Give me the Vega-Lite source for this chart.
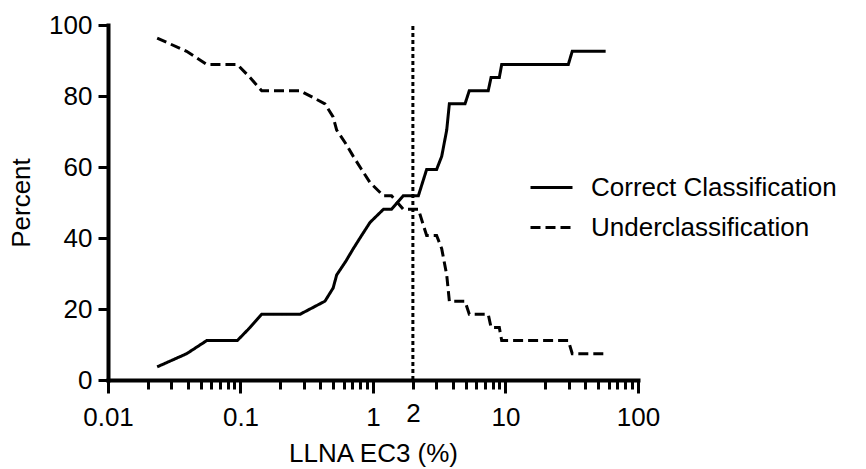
{
  "$schema": "https://vega.github.io/schema/vega-lite/v6.json",
  "width": 530,
  "height": 355,
  "autosize": {"type": "none"},
  "padding": {"left": 108, "top": 25, "right": 228, "bottom": 89},
  "background": "white",
  "config": {
    "view": {"stroke": null},
    "font": "Liberation Sans",
    "axis": {
      "grid": false,
      "domainColor": "black",
      "domainWidth": 4,
      "domainCap": "square",
      "tickColor": "black",
      "tickWidth": 3,
      "labelColor": "black",
      "titleColor": "black",
      "labelFont": "Liberation Sans",
      "titleFont": "Liberation Sans",
      "labelFontSize": 26,
      "titleFontSize": 26,
      "titleFontWeight": "normal",
      "labelOverlap": false,
      "labelFlush": false,
      "labelBound": false
    },
    "legend": {
      "labelFont": "Liberation Sans",
      "labelFontSize": 26,
      "labelColor": "black",
      "labelLimit": 400,
      "rowPadding": 4,
      "padding": 0
    }
  },
  "layer": [
    {
      "data": {
        "values": [
          {"ec3": 0.0235, "percent": 3.7, "series": "Correct Classification"},
          {"ec3": 0.0392, "percent": 7.4, "series": "Correct Classification"},
          {"ec3": 0.0556, "percent": 11.1, "series": "Correct Classification"},
          {"ec3": 0.0946, "percent": 11.1, "series": "Correct Classification"},
          {"ec3": 0.118, "percent": 14.8, "series": "Correct Classification"},
          {"ec3": 0.1445, "percent": 18.5, "series": "Correct Classification"},
          {"ec3": 0.281, "percent": 18.5, "series": "Correct Classification"},
          {"ec3": 0.434, "percent": 22.2, "series": "Correct Classification"},
          {"ec3": 0.5, "percent": 25.9, "series": "Correct Classification"},
          {"ec3": 0.532, "percent": 29.6, "series": "Correct Classification"},
          {"ec3": 0.62, "percent": 33.3, "series": "Correct Classification"},
          {"ec3": 0.71, "percent": 37.0, "series": "Correct Classification"},
          {"ec3": 0.82, "percent": 40.7, "series": "Correct Classification"},
          {"ec3": 0.95, "percent": 44.4, "series": "Correct Classification"},
          {"ec3": 1.2, "percent": 48.1, "series": "Correct Classification"},
          {"ec3": 1.38, "percent": 48.1, "series": "Correct Classification"},
          {"ec3": 1.69, "percent": 51.9, "series": "Correct Classification"},
          {"ec3": 2.2, "percent": 51.9, "series": "Correct Classification"},
          {"ec3": 2.54, "percent": 59.3, "series": "Correct Classification"},
          {"ec3": 3.02, "percent": 59.3, "series": "Correct Classification"},
          {"ec3": 3.3, "percent": 63.0, "series": "Correct Classification"},
          {"ec3": 3.6, "percent": 70.4, "series": "Correct Classification"},
          {"ec3": 3.77, "percent": 77.8, "series": "Correct Classification"},
          {"ec3": 4.95, "percent": 77.8, "series": "Correct Classification"},
          {"ec3": 5.33, "percent": 81.5, "series": "Correct Classification"},
          {"ec3": 7.41, "percent": 81.5, "series": "Correct Classification"},
          {"ec3": 7.78, "percent": 85.2, "series": "Correct Classification"},
          {"ec3": 8.98, "percent": 85.2, "series": "Correct Classification"},
          {"ec3": 9.36, "percent": 88.9, "series": "Correct Classification"},
          {"ec3": 29.8, "percent": 88.9, "series": "Correct Classification"},
          {"ec3": 31.9, "percent": 92.6, "series": "Correct Classification"},
          {"ec3": 57, "percent": 92.6, "series": "Correct Classification"},
          {"ec3": 0.0235, "percent": 96.3, "series": "Underclassification"},
          {"ec3": 0.0392, "percent": 92.6, "series": "Underclassification"},
          {"ec3": 0.0556, "percent": 88.9, "series": "Underclassification"},
          {"ec3": 0.0946, "percent": 88.9, "series": "Underclassification"},
          {"ec3": 0.118, "percent": 85.2, "series": "Underclassification"},
          {"ec3": 0.1445, "percent": 81.5, "series": "Underclassification"},
          {"ec3": 0.281, "percent": 81.5, "series": "Underclassification"},
          {"ec3": 0.434, "percent": 77.8, "series": "Underclassification"},
          {"ec3": 0.5, "percent": 74.1, "series": "Underclassification"},
          {"ec3": 0.532, "percent": 70.4, "series": "Underclassification"},
          {"ec3": 0.62, "percent": 66.7, "series": "Underclassification"},
          {"ec3": 0.71, "percent": 63.0, "series": "Underclassification"},
          {"ec3": 0.82, "percent": 59.3, "series": "Underclassification"},
          {"ec3": 0.95, "percent": 55.6, "series": "Underclassification"},
          {"ec3": 1.2, "percent": 51.9, "series": "Underclassification"},
          {"ec3": 1.38, "percent": 51.9, "series": "Underclassification"},
          {"ec3": 1.69, "percent": 48.1, "series": "Underclassification"},
          {"ec3": 2.2, "percent": 48.1, "series": "Underclassification"},
          {"ec3": 2.54, "percent": 40.7, "series": "Underclassification"},
          {"ec3": 3.02, "percent": 40.7, "series": "Underclassification"},
          {"ec3": 3.3, "percent": 37.0, "series": "Underclassification"},
          {"ec3": 3.6, "percent": 29.6, "series": "Underclassification"},
          {"ec3": 3.77, "percent": 22.2, "series": "Underclassification"},
          {"ec3": 4.95, "percent": 22.2, "series": "Underclassification"},
          {"ec3": 5.33, "percent": 18.5, "series": "Underclassification"},
          {"ec3": 7.41, "percent": 18.5, "series": "Underclassification"},
          {"ec3": 7.78, "percent": 14.8, "series": "Underclassification"},
          {"ec3": 8.98, "percent": 14.8, "series": "Underclassification"},
          {"ec3": 9.36, "percent": 11.1, "series": "Underclassification"},
          {"ec3": 29.8, "percent": 11.1, "series": "Underclassification"},
          {"ec3": 31.9, "percent": 7.4, "series": "Underclassification"},
          {"ec3": 57, "percent": 7.4, "series": "Underclassification"}
        ]
      },
      "mark": {"type": "line", "strokeWidth": 3, "color": "black", "strokeJoin": "miter"},
      "encoding": {
        "x": {
          "field": "ec3",
          "type": "quantitative",
          "scale": {"type": "log", "domain": [0.01, 100], "nice": false},
          "axis": {
            "title": "LLNA EC3 (%)",
            "values": [0.01, 0.02, 0.03, 0.04, 0.05, 0.06, 0.07, 0.08, 0.09, 0.1, 0.2, 0.3, 0.4, 0.5, 0.6, 0.7, 0.8, 0.9, 1, 2, 3, 4, 5, 6, 7, 8, 9, 10, 20, 30, 40, 50, 60, 70, 80, 90, 100],
            "labelExpr": "indexof([0.01, 0.1, 1, 2, 10, 100], datum.value) >= 0 ? format(datum.value, '~g') : ''",
            "tickSize": {"condition": {"test": "indexof([0.01, 0.1, 1, 10, 100], datum.value) >= 0", "value": 13}, "value": 9},
            "labelPadding": 11,
            "titlePadding": 10
          }
        },
        "y": {
          "field": "percent",
          "type": "quantitative",
          "scale": {"domain": [0, 100], "nice": false},
          "axis": {
            "title": "Percent",
            "values": [0, 20, 40, 60, 80, 100],
            "tickSize": 10,
            "labelPadding": 6,
            "titlePadding": 14
          }
        },
        "strokeDash": {
          "field": "series",
          "type": "nominal",
          "scale": {"domain": ["Correct Classification", "Underclassification"], "range": [[1, 0], [10, 5]]},
          "legend": {
            "title": null,
            "orient": "none",
            "legendX": 421,
            "legendY": 140,
            "symbolType": "stroke",
            "symbolSize": 1764,
            "symbolStrokeWidth": 3,
            "symbolStrokeColor": "black",
            "labelOffset": 17
          }
        }
      }
    },
    {
      "data": {"values": [{"ec3": 2}]},
      "mark": {"type": "rule", "strokeDash": [4, 3], "strokeWidth": 3, "color": "black"},
      "encoding": {
        "x": {"field": "ec3", "type": "quantitative"},
        "y": {"datum": 0},
        "y2": {"datum": 100}
      }
    }
  ]
}
